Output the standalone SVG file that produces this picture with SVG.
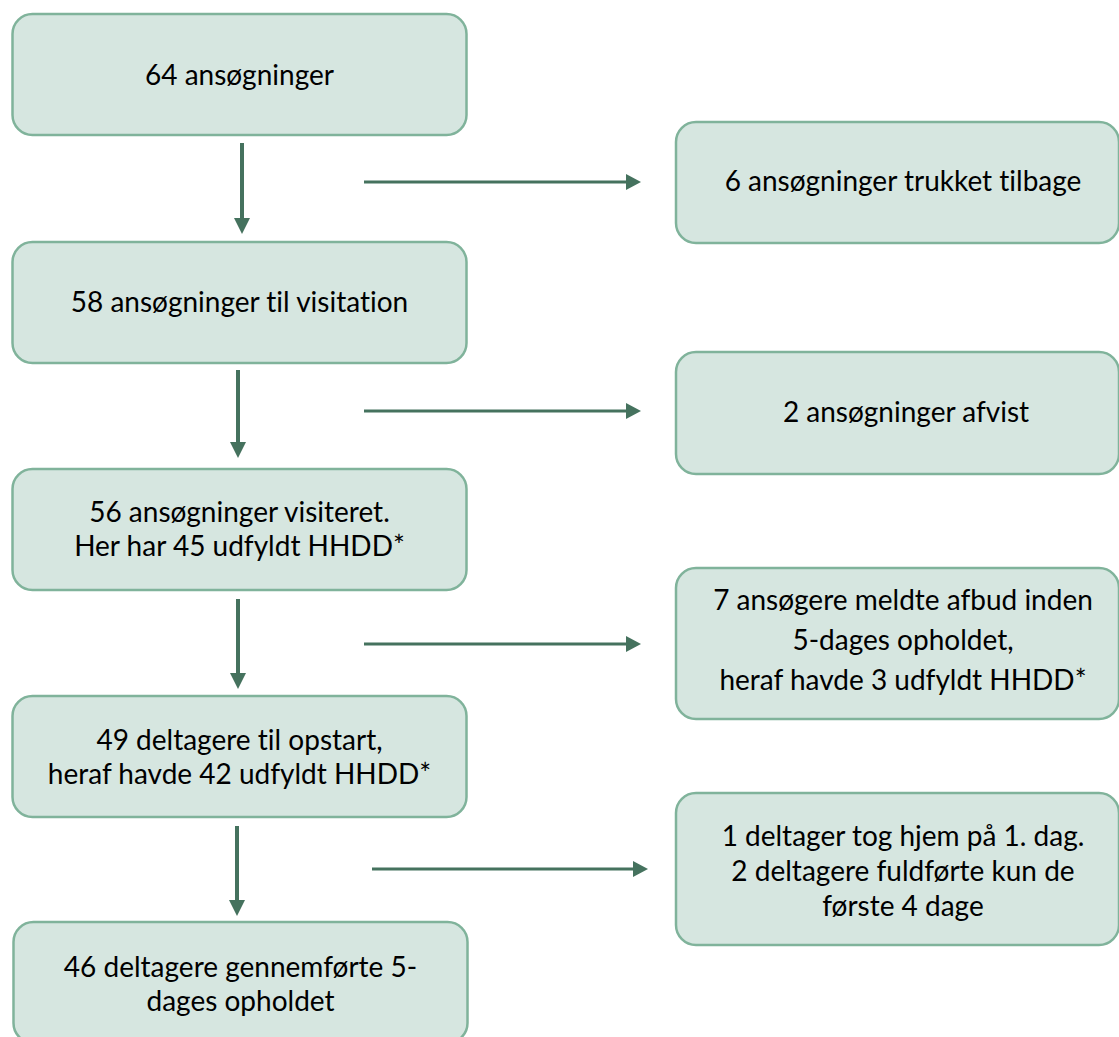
<svg xmlns="http://www.w3.org/2000/svg" width="1119" height="1037" viewBox="0 0 1119 1037">
<defs>
<style>
.box{fill:#d6e6e0;stroke:#80b39b;stroke-width:2.5}
.t{font-family:Lato,"Liberation Sans",sans-serif;font-size:28px;fill:#000;text-anchor:middle;font-variant-ligatures:none}
.v{stroke:#45725e;stroke-width:4;fill:none}
.h{stroke:#45725e;stroke-width:3;fill:none}
.head{fill:#45725e}
</style>
</defs>
<rect width="1119" height="1037" fill="#fff"/>
<g id="connectors">
<line class="v" x1="242" y1="143" x2="242" y2="219"/>
<polygon class="head" points="234,218 250,218 242,234"/>
<line class="v" x1="238" y1="370" x2="238" y2="443"/>
<polygon class="head" points="230,442 246,442 238,458"/>
<line class="v" x1="238" y1="599" x2="238" y2="674"/>
<polygon class="head" points="230,673 246,673 238,689"/>
<line class="v" x1="237" y1="826" x2="237" y2="901"/>
<polygon class="head" points="229,900 245,900 237,916"/>
<line class="h" x1="364" y1="182" x2="627" y2="182"/>
<polygon class="head" points="626,174 626,190 641,182"/>
<line class="h" x1="364" y1="411" x2="627" y2="411"/>
<polygon class="head" points="626,403 626,419 641,411"/>
<line class="h" x1="364" y1="644" x2="627" y2="644"/>
<polygon class="head" points="626,636 626,652 641,644"/>
<line class="h" x1="372" y1="869" x2="634" y2="869"/>
<polygon class="head" points="633,861 633,877 648,869"/>
</g>
<g id="n1"><rect class="box" x="12.5" y="14" width="454" height="121" rx="20"/><text class="t" x="239.5" y="85">64 ansøgninger</text></g>
<g id="n2"><rect class="box" x="12.5" y="242" width="454" height="121" rx="20"/><text class="t" x="239.5" y="312">58 ansøgninger til visitation</text></g>
<g id="n3"><rect class="box" x="12.5" y="469" width="454" height="121" rx="20"/><text class="t" x="239.5" y="522">56 ansøgninger visiteret.</text><text class="t" x="239.5" y="556">Her har 45 udfyldt HHDD*</text></g>
<g id="n4"><rect class="box" x="12.5" y="696" width="454" height="121" rx="20"/><text class="t" x="239.5" y="750">49 deltagere til opstart,</text><text class="t" x="239.5" y="784">heraf havde 42 udfyldt HHDD*</text></g>
<g id="n5"><rect class="box" x="13.5" y="922" width="454" height="121" rx="20"/><text class="t" x="240.5" y="977">46 deltagere gennemførte 5-</text><text class="t" x="240.5" y="1011">dages opholdet</text></g>
<g id="r1"><rect class="box" x="676" y="122" width="443" height="121" rx="20"/><text class="t" x="903" y="191">6 ansøgninger trukket tilbage</text></g>
<g id="r2"><rect class="box" x="676" y="352" width="443" height="122" rx="20"/><text class="t" x="906" y="422">2 ansøgninger afvist</text></g>
<g id="r3"><rect class="box" x="676" y="568" width="443" height="151" rx="20"/><text class="t" x="903" y="610">7 ansøgere meldte afbud inden</text><text class="t" x="903" y="650">5-dages opholdet,</text><text class="t" x="903" y="690">heraf havde 3 udfyldt HHDD*</text></g>
<g id="r4"><rect class="box" x="676" y="793" width="443" height="152" rx="20"/><text class="t" x="903" y="846">1 deltager tog hjem på 1. dag.</text><text class="t" x="903" y="881">2 deltagere fuldførte kun de</text><text class="t" x="903" y="916">første 4 dage</text></g>
</svg>
